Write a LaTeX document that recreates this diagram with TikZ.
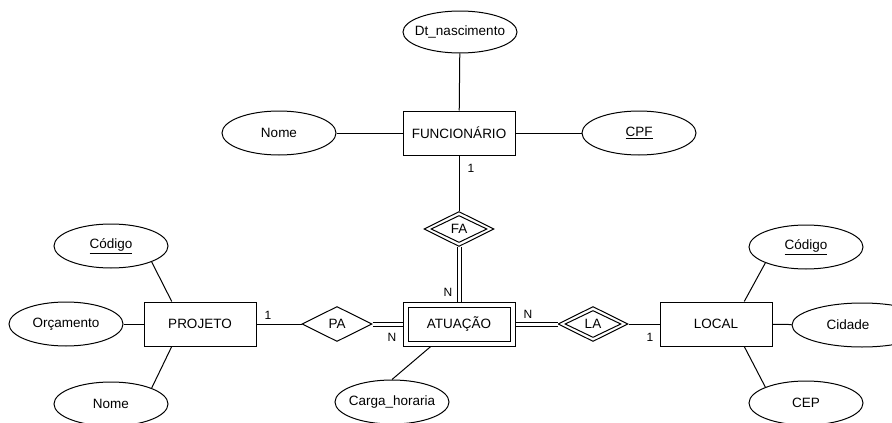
\documentclass[tikz,border=0pt]{standalone}
\usepackage{fontspec}
\setmainfont{Liberation Sans}
\usetikzlibrary{shapes.geometric,calc}
% keep the ellipse size set by minimum width/height, not by the text width
\newcommand\attrtext[1]{\makebox[0pt]{#1}}
\begin{document}
\begin{tikzpicture}[x=1pt,y=-1pt,
  every node/.style={font=\fontsize{13.5}{16}\selectfont},
  attr/.style={ellipse,draw,line width=1pt,minimum width=114pt,minimum height=44pt,inner sep=0pt,fill=white},
  entity/.style={rectangle,draw,line width=1pt,minimum width=112pt,minimum height=44pt,inner sep=0pt,fill=white},
  rel/.style={diamond,draw,line width=1pt,minimum width=70pt,minimum height=35pt,inner sep=0pt,fill=white},
  relin/.style={diamond,draw,line width=1pt,minimum width=56pt,minimum height=27pt,inner sep=0pt},
  link/.style={line width=1pt},
  dlink/.style={line width=1pt,double,double distance=3pt},
  card/.style={font=\fontsize{12}{14}\selectfont,inner sep=0pt}]
\useasboundingbox (0,0) rectangle (892,423);

% entities
\node[entity] (func) at (459,133) {FUNCIONÁRIO};
\node[entity] (proj) at (200,324) {PROJETO};
\node[entity] (loc) at (716,324) {LOCAL};
\node[entity] (atu) at (459,324) {};
\node[entity,minimum width=102pt,minimum height=34pt] (atuin) at (atu) {ATUAÇÃO};

% relationships
\node[rel] (fa) at (459,229) {};
\node[relin] (fain) at (fa) {FA};
\node[rel] (pa) at (337,324) {PA};
\node[rel] (la) at (593,324) {};
\node[relin] (lain) at (la) {LA};

% attributes
\node[attr,minimum height=42pt] (dt) at (460,32) {\attrtext{Dt\_nascimento}};
\node[attr] (nomef) at (279,133) {\attrtext{Nome}};
\node[attr] (cpf) at (639,133) {\attrtext{\underline{CPF}}};
\node[attr] (codp) at (111,246) {\attrtext{\underline{Código}}};
\node[attr] (orc) at (66,324) {\attrtext{Orçamento}};
\node[attr] (nomep) at (111,404) {\attrtext{Nome}};
\node[attr] (carga) at (392,402) {\attrtext{Carga\_horaria}};
\node[attr] (codl) at (806,247) {\attrtext{\underline{Código}}};
\node[attr,minimum width=140pt] (cid) at (862,325) {};
\node (cidtext) at (848,325) {Cidade};
\node[attr] (cep) at (806,403) {\attrtext{CEP}};

% attribute links
\draw[link] (dt) -- (func);
\draw[link] (nomef) -- (func);
\draw[link] (func) -- (cpf);
\draw[link] (codp.south east) -- ($(proj.north)!0.5!(proj.north west)$);
\draw[link] (orc) -- (proj);
\draw[link] (nomep.north east) -- ($(proj.south)!0.5!(proj.south west)$);
\draw[link] ($(atu.south)!0.5!(atu.south west)$) -- (carga.north);
\draw[link] (codl.south west) -- ($(loc.north)!0.5!(loc.north east)$);
\draw[link] (loc) -- (cid);
\draw[link] (cep.north west) -- ($(loc.south)!0.5!(loc.south east)$);

% relationship links
\draw[link] (func) -- (fa);
\draw[dlink] (fa) -- (atu);
\draw[link] (proj) -- (pa);
\draw[dlink] (pa) -- (atu);
\draw[dlink] (atu) -- (la);
\draw[link] (la) -- (loc);

% cardinalities
\node[card] (c1) at (471,168) {1};
\node[card] (c2) at (448,292) {N};
\node[card] (c3) at (268,315) {1};
\node[card] (c4) at (392,337) {N};
\node[card] (c5) at (528,314) {N};
\node[card] (c6) at (650,337) {1};
\end{tikzpicture}
\end{document}
